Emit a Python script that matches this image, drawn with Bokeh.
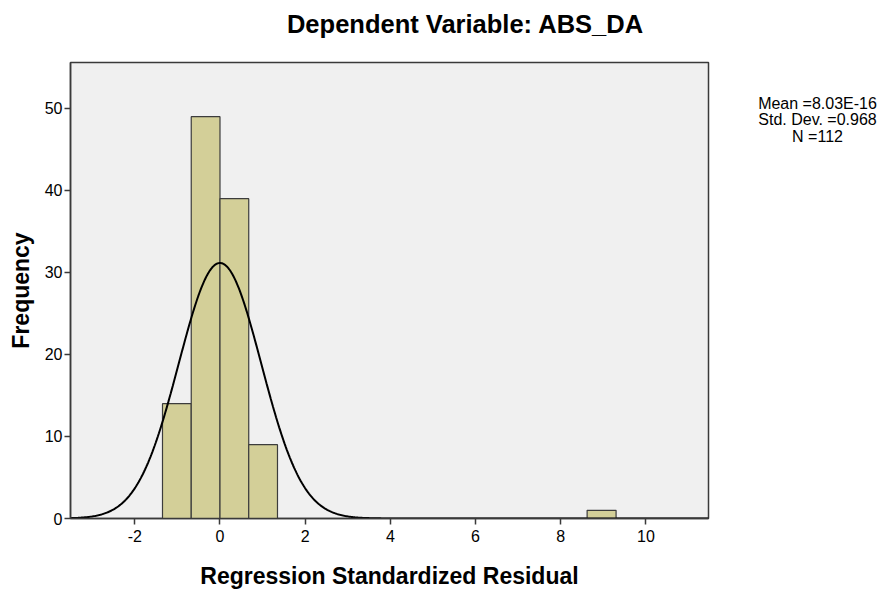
import numpy as np
from bokeh.plotting import figure
from bokeh.models import FixedTicker, Range1d
from bokeh.layouts import column, row
from bokeh.core.properties import value
from bokeh.embed import file_html
from bokeh.resources import INLINE

# Histogram bins (left/right edges) and counts
bin_left = [-1.35, -0.675, 0.0, 0.675, 8.62]
bin_right = [-0.675, 0.0, 0.675, 1.35, 9.30]
counts = [14, 49, 39, 9, 1]

# Reported statistics
mean = 8.03e-16
std_dev = 0.968
n_obs = 112
bin_width = 0.675

x_ticks = [-2, 0, 2, 4, 6, 8, 10]
y_ticks = [0, 10, 20, 30, 40, 50]

title_text = "Dependent Variable: ABS_DA"
stats_lines = ["Mean =8.03E-16", "Std. Dev. =0.968", "N =112"]

FONT = "Liberation Sans"
W, H = 886, 594
TOP_H = 40
P_W = 710
BORDER_TOP = 22
BORDER_BOTTOM = 76

# ---- title strip ----
t = figure(width=W, height=TOP_H, output_backend="svg", toolbar_location=None,
           x_range=Range1d(0, W), y_range=Range1d(TOP_H, 0),
           x_axis_location=None, y_axis_location=None, min_border=0)
t.outline_line_color = None
t.grid.visible = False
t.text(x=[465], y=[23], text=[title_text], text_font=value(FONT),
       text_font_size="25.5px", text_font_style="bold", text_color="black",
       text_align="center", text_baseline="middle")

# ---- main plot ----
p = figure(width=P_W, height=H - TOP_H, output_backend="svg", toolbar_location=None,
           x_range=Range1d(-3.51, 11.47), y_range=Range1d(0, 55.6),
           min_border_left=70, min_border_right=2, min_border_top=BORDER_TOP,
           min_border_bottom=BORDER_BOTTOM)

p.background_fill_color = "#F0F0F0"
p.border_fill_color = "white"
p.outline_line_color = "#3a3a3a"
p.outline_line_width = 1.5
p.grid.visible = False

p.quad(left=bin_left, right=bin_right, bottom=0, top=counts,
       fill_color="#D3CF98", line_color="#3c3c3c", line_width=1.2)

xs = np.linspace(-3.51, 11.47, 600)
ys = n_obs * bin_width / (std_dev * np.sqrt(2 * np.pi)) * np.exp(-0.5 * ((xs - mean) / std_dev) ** 2)
p.line(xs, ys, line_color="black", line_width=2)

for ax in (p.xaxis, p.yaxis):
    ax.axis_line_color = "#3a3a3a"
    ax.axis_line_width = 1.5
    ax.major_tick_line_color = "#3a3a3a"
    ax.major_tick_line_width = 1.5
    ax.major_tick_out = 6
    ax.major_tick_in = 0
    ax.minor_tick_line_color = None
    ax.major_label_text_font = FONT
    ax.major_label_text_font_size = "16px"
    ax.major_label_text_color = "black"
    ax.axis_label_text_font = FONT
    ax.axis_label_text_font_size = "23px"
    ax.axis_label_text_font_style = "bold"
    ax.axis_label_text_color = "black"

p.xaxis.ticker = FixedTicker(ticks=x_ticks)
p.yaxis.ticker = FixedTicker(ticks=y_ticks)
p.xaxis.major_label_overrides = {v: str(v) for v in x_ticks}
p.xaxis.axis_label = "Regression Standardized Residual"
p.yaxis.axis_label = "Frequency"
p.xaxis.major_label_standoff = 5
p.xaxis.axis_label_standoff = 18
p.yaxis.major_label_standoff = 2
p.yaxis.axis_label_standoff = 8

# ---- stats panel on the right (frame aligned with the main plot's frame) ----
frame_top = TOP_H + BORDER_TOP
frame_bottom = H - BORDER_BOTTOM
q = figure(width=W - P_W, height=H - TOP_H, output_backend="svg", toolbar_location=None,
           x_range=Range1d(0, W - P_W), y_range=Range1d(frame_bottom, frame_top),
           x_axis_location=None, y_axis_location=None,
           min_border_left=0, min_border_right=0,
           min_border_top=BORDER_TOP, min_border_bottom=BORDER_BOTTOM)
q.outline_line_color = None
q.grid.visible = False
q.text(x=[817 - P_W] * 3, y=[103, 119, 135.5], text=stats_lines,
       text_font=value(FONT), text_font_size="16px", text_color="black",
       text_align="center", text_baseline="middle")

layout = column(t, row(p, q, spacing=0), spacing=0)
open("out.html", "w").write(file_html(layout, INLINE))
